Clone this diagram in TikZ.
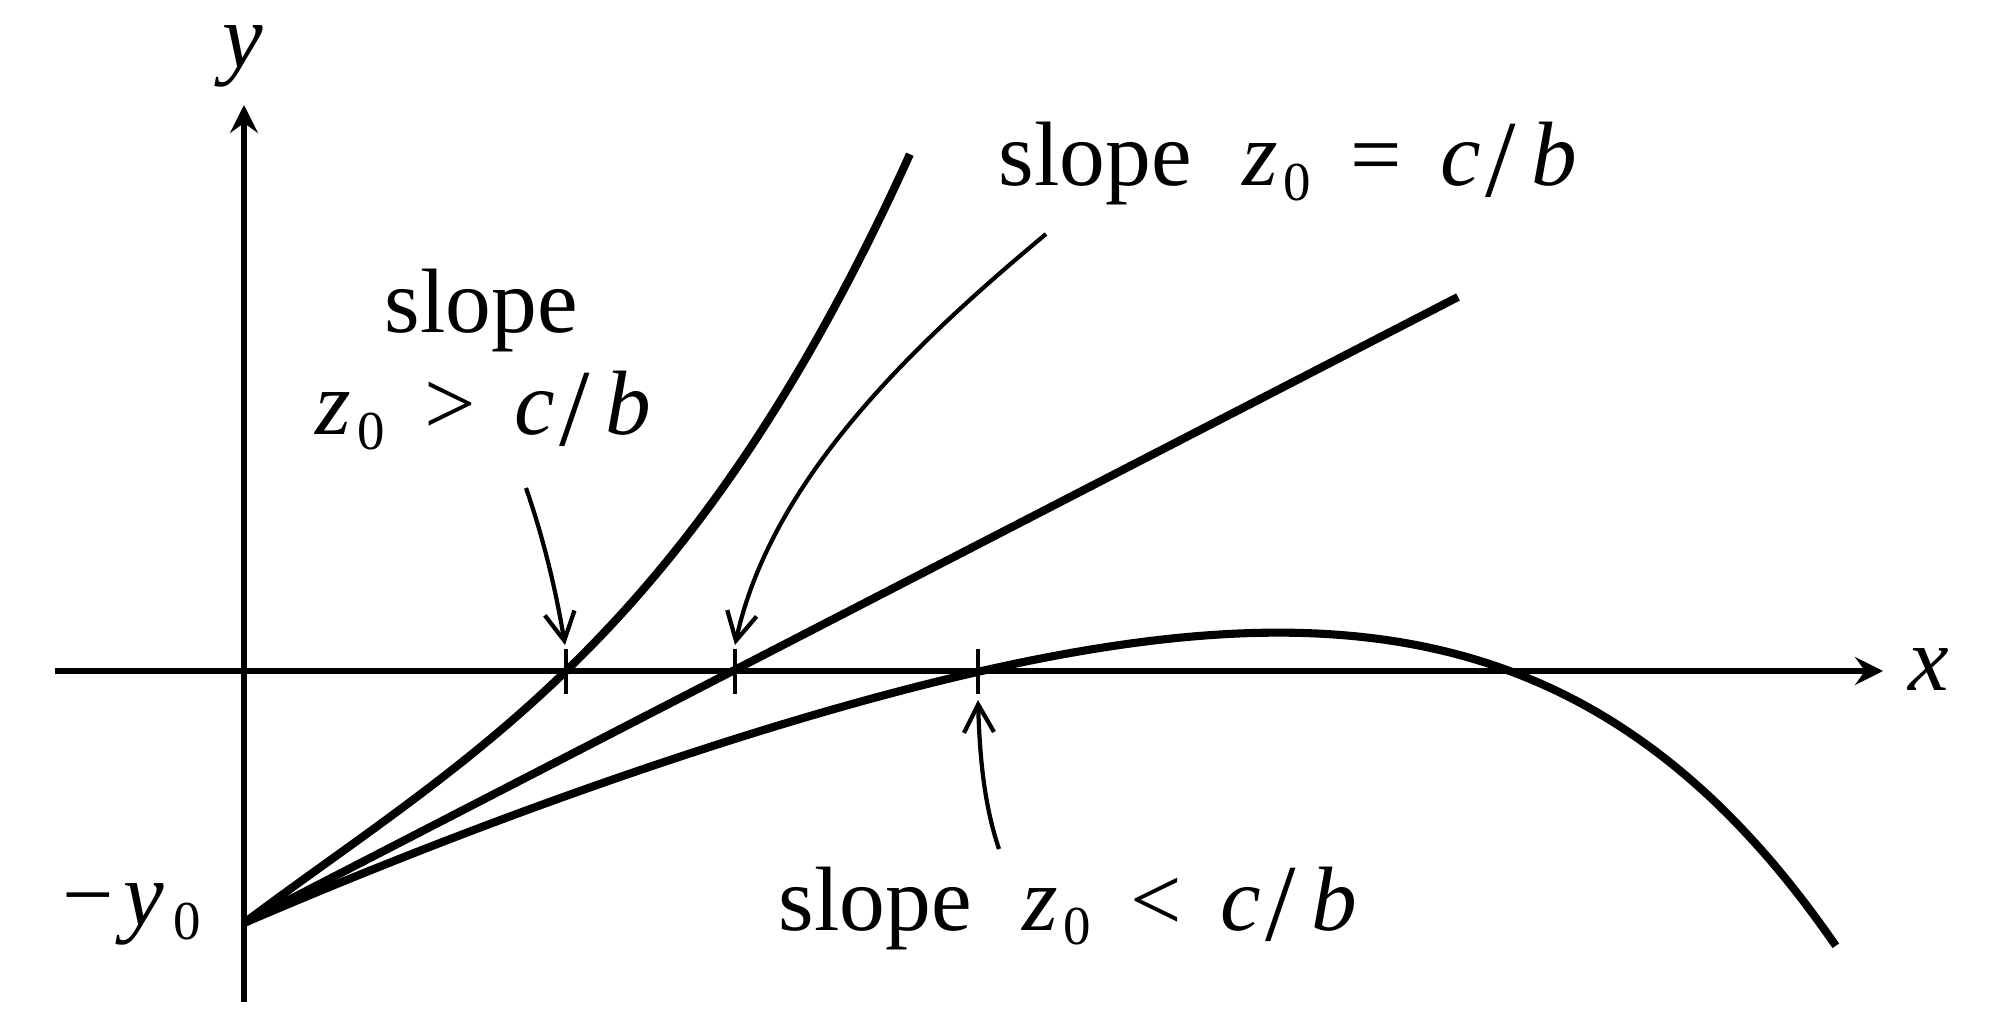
\documentclass[tikz,border=0pt]{standalone}
\usepackage{fontspec}
\setmainfont{Liberation Serif}
\usepackage{graphicx}
\usetikzlibrary{arrows.meta}
\newcommand\subzero{\raisebox{-0.155em}{\fontsize{15.6pt}{15.6pt}\selectfont 0}}
\newcommand\slashsym{\raisebox{-0.12em}{\scalebox{1.2}{/}}}
\newcommand\zrel[1]{\textit{z}\kern0.07em\subzero\hspace{0.43em}#1\hspace{0.42em}\textit{c}\hspace{0.05em}\slashsym\hspace{0.17em}\textit{b}}
\begin{document}
\begin{tikzpicture}[x=0.01cm,y=-0.01cm,
  font=\fontsize{26pt}{31pt}\selectfont,
  axis/.style={line width=1.55pt},
  axisarrow/.style={-{Stealth[length=0.28cm,width=0.28cm,inset=0.1cm]}},
  curve/.style={line width=2.3pt},
  pointer/.style={line width=1.2pt,-{Straight Barb[length=0.28cm,width=0.3cm]}},
  tickmark/.style={line width=1.15pt},
  lbl/.style={inner sep=0pt,anchor=base west}]
\useasboundingbox (0,0) rectangle (2000,1028);

% key points
\coordinate (O) at (244,923);
\coordinate (xs) at (55,671);
\coordinate (xe) at (1883,671);
\coordinate (ys) at (244,1002);
\coordinate (ye) at (244,105);
\coordinate (r1) at (566,671);
\coordinate (r2) at (735,671);
\coordinate (r3) at (978,671);
\coordinate (L2) at (1458,297);

% axes
\draw[axis,axisarrow] (xs) -- (xe);
\draw[axis,axisarrow] (ys) -- (ye);

% ticks
\foreach \t in {r1,r2,r3}
  \draw[tickmark] (\t) ++(0,-22) -- ++(0,45);

% curves
\draw[curve] plot[domain=0:6.66,samples=80,smooth]
  ({244+100*\x},{923-(75*\x-3.73*\x*\x+1.4724*\x*\x*\x)});
\draw[curve] (O) -- (L2);
\draw[curve] (O) -- plot[domain=0.05:15.92,samples=120,smooth]
  ({244+100*\x},{923-(43*\x-1.1*\x*\x-30.3*(\x/10)^5.7)});

% pointers
\coordinate (p1) at (526,488);
\coordinate (h1) at (565,645);
\draw[pointer] (p1) .. controls (544,540) and (556,591) .. (h1);
\coordinate (p2) at (1046,234);
\coordinate (h2) at (735,645);
\draw[pointer] (p2) .. controls (915,343) and (771,479) .. (h2);
\coordinate (p3) at (999,849);
\coordinate (h3) at (978,700);
\draw[pointer] (p3) .. controls (983,802) and (979.5,750) .. (h3);

% labels
\node[lbl,text height=0.5em] (ylab) at (222,68) {\textit{y}};
\node[lbl] (xlab) at (1908,690) {\textit{x}};
\node[lbl] (y0lab) at (62,925) {−\kern0.1em\textit{y}\kern0.1em\subzero};
\node[lbl] (gtA) at (384,333) {slope};
\node[lbl] (gtB) at (315,435) {\zrel{>}};
\node[lbl] (eqlab) at (998,186) {slope\hspace{0.55em}\zrel{=}};
\node[lbl] (ltlab) at (778,930) {slope\hspace{0.55em}\zrel{<}};
\end{tikzpicture}
\end{document}
